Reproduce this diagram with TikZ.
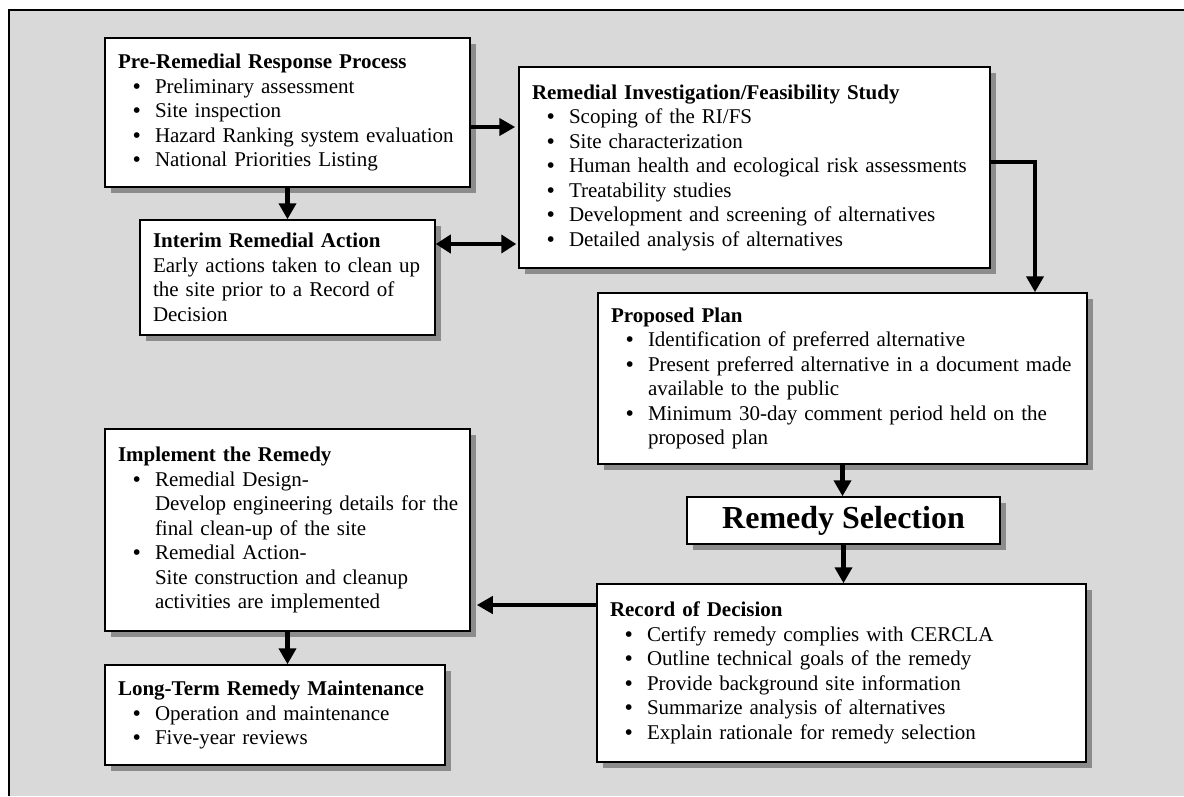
\documentclass[tikz,border=0pt]{standalone}
\usepackage{fontspec}
\setmainfont{Liberation Serif}
\usetikzlibrary{arrows.meta,shadows}
\definecolor{bggray}{RGB}{217,217,217}
\definecolor{shgray}{RGB}{140,140,140}
\newcommand{\bul}{\textbf{\textbullet}}
\newcommand{\bl}[1]{\mbox{\hspace*{15pt}\makebox[22pt][l]{\bul}#1}}
\newcommand{\ct}[1]{\mbox{\hspace*{37pt}#1}}
\newcommand{\tl}[1]{\mbox{#1}}
\newcommand{\hd}[1]{\mbox{\textbf{#1}}}
\begin{document}
\begin{tikzpicture}[x=1pt,y=-1pt,
  box/.style={draw=black, line width=1.5pt, fill=white,
    drop shadow={shadow xshift=6pt, shadow yshift=-6pt, fill=shgray, opacity=1},
    inner xsep=13pt, inner ysep=0pt,
    font=\fontsize{21}{24.5}\selectfont},
  arr/.style={line width=4.5pt, -{Triangle[length=16pt,width=17pt]}},
  dbl/.style={line width=4.5pt, {Triangle[length=15pt,width=18pt]}-{Triangle[length=15pt,width=18pt]}}]
\useasboundingbox (0,0) rectangle (1184,796);
\fill[bggray] (9,10) rectangle (1184,796);
\draw[line width=2pt] (9,796) -- (9,10) -- (1184,10);

\node[box, text width=339pt, align=left, minimum height=149pt] (pre) at (287.5,112.5)
 {\hd{Pre-Remedial Response Process}\\
  \bl{Preliminary assessment}\\
  \bl{Site inspection}\\
  \bl{Hazard Ranking system evaluation}\\
  \bl{National Priorities Listing}};

\node[box, text width=445pt, align=left, minimum height=201pt] (ri) at (754.5,167.5)
 {\hd{Remedial Investigation/Feasibility Study}\\
  \bl{Scoping of the RI/FS}\\
  \bl{Site characterization}\\
  \bl{Human health and ecological risk assessments}\\
  \bl{Treatability studies}\\
  \bl{Development and screening of alternatives}\\
  \bl{Detailed analysis of alternatives}};

\node[box, text width=269pt, align=left, minimum height=115pt] (interim) at (287.5,277.5)
 {\hd{Interim Remedial Action}\\
  \tl{Early actions taken to clean up}\\
  \tl{the site prior to a Record of}\\
  \tl{Decision}};

\node[box, text width=463pt, align=left, minimum height=171pt] (pp) at (842.5,378.5)
 {\hd{Proposed Plan}\\
  \bl{Identification of preferred alternative}\\
  \bl{Present preferred alternative in a document made}\\
  \ct{available to the public}\\
  \bl{Minimum 30-day comment period held on the}\\
  \ct{proposed plan}};

\node[box, inner sep=0pt, minimum width=313pt, minimum height=47pt,
  font=\fontsize{32}{38}\selectfont\bfseries] (rs) at (843.5,520.5)
 {Remedy Selection};

\node[box, text width=463pt, align=left, minimum height=178pt] (rod) at (841.5,673)
 {\hd{Record of Decision}\\
  \bl{Certify remedy complies with CERCLA}\\
  \bl{Outline technical goals of the remedy}\\
  \bl{Provide background site information}\\
  \bl{Summarize analysis of alternatives}\\
  \bl{Explain rationale for remedy selection}};

\node[box, text width=339pt, align=left, minimum height=202pt] (impl) at (287.5,530)
 {\hd{Implement the Remedy}\\
  \bl{Remedial Design-}\\
  \ct{Develop engineering details for the}\\
  \ct{final clean-up of the site}\\
  \bl{Remedial Action-}\\
  \ct{Site construction and cleanup}\\
  \ct{activities are implemented}};

\node[box, text width=314pt, align=left, minimum height=100pt] (ltrm) at (275,715)
 {\hd{Long-Term Remedy Maintenance}\\
  \bl{Operation and maintenance}\\
  \bl{Five-year reviews}};

\draw[arr, shorten >=3pt] ([yshift=-14.5pt]pre.east) -- ([yshift=-14.5pt]pre.east -| ri.west);
\draw[arr] (pre.south) -- (interim.north);
\draw[dbl, shorten >=2pt] ([yshift=33.5pt]interim.east) -- ([yshift=33.5pt]interim.east -| ri.west);
\draw[arr] ([yshift=5.5pt]ri.east) -| ([xshift=192.5pt]pp.north);
\draw[arr] (pp.south) -- (pp.south |- rs.north);
\draw[arr] (rs.south) -- (rs.south |- rod.north);
\draw[arr, shorten >=6pt] ([yshift=68pt]rod.west) -- ([yshift=68pt]rod.west -| impl.east);
\draw[arr] (impl.south) -- (impl.south |- ltrm.north);
\end{tikzpicture}
\end{document}
